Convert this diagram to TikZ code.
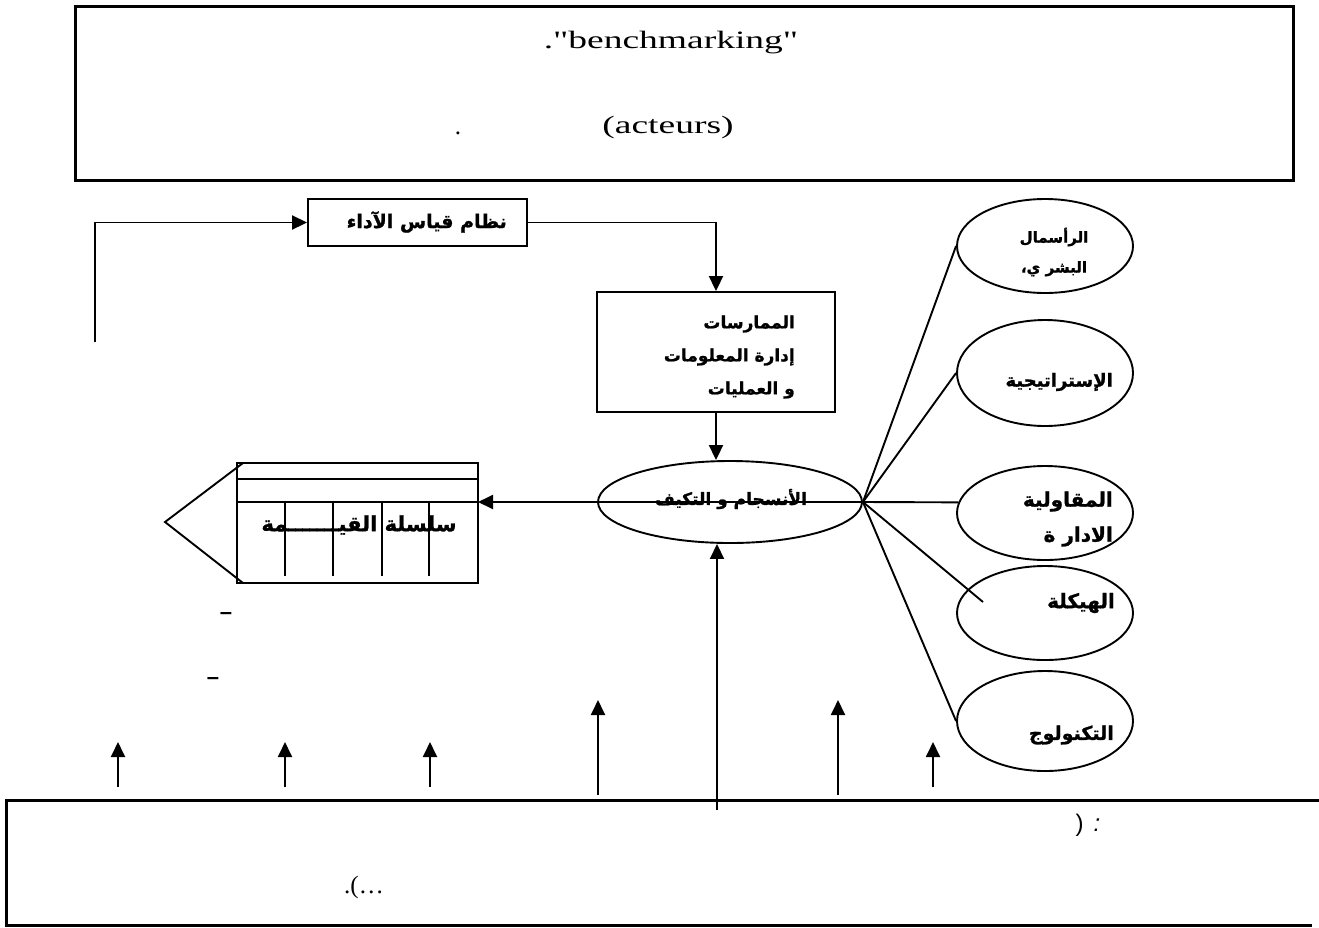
\documentclass[tikz,border=0pt]{standalone}
\usepackage{fontspec}
\usepackage{graphicx}
\usetikzlibrary{arrows.meta,shapes.geometric}
\newfontfamily\latinfont{Liberation Serif}
\newfontfamily\arabicfont[Script=Arabic, BoldFeatures={FakeBold=1.2}]{DejaVu Sans}
\newfontfamily\sansfont{Liberation Sans}
\TeXXeTstate=1
\tikzset{
  ln/.style={line width=1.9pt},
  arr/.style={line width=1.9pt, -{Triangle[length=15pt,width=14pt]}},
  frame/.style={line width=3pt},
  box/.style={draw, line width=1.9pt, rectangle, inner sep=0pt},
  ell/.style={draw, line width=1.9pt, ellipse, inner sep=0pt},
  ar/.style={font=\arabicfont\bfseries\fontsize{18}{21}\selectfont, inner sep=0pt},
  lat/.style={font=\latinfont\fontsize{25}{30}\selectfont, inner sep=0pt},
  dsh/.style={font=\sansfont\bfseries\fontsize{22}{22}\selectfont, inner sep=0pt},
}
\begin{document}
\begin{tikzpicture}[x=1pt,y=-1pt]
\useasboundingbox (0,0) rectangle (1319,927);
% top frame
\draw[frame] (75,6) rectangle (1293,180);
\node[lat] (t1) at (671,43) {\scalebox{1.5}[1]{."benchmarking"}};
\node[lat] (t2) at (668,127) {\scalebox{1.5}[1]{(acteurs)}};
\node[lat] (t3) at (458,133) {.};
% performance box
\node[box, minimum width=219pt, minimum height=47pt] (pm) at (417.5,222.5) {};
\node[ar, anchor=east, font=\arabicfont\bfseries\fontsize{19}{22}\selectfont] (pmt) at (507,222) {\beginR نظام قياس الآداء\endR};
\coordinate (fb) at (95,342);
\draw[arr] (fb) -- (fb |- pm.west) -- (pm.west);
% practices box
\node[box, minimum width=238pt, minimum height=120pt] (pr) at (716,352) {};
\node[ar, anchor=east, align=right, font=\arabicfont\bfseries\fontsize{17}{33}\selectfont] (prt) at (795,357) {\beginR الممارسات\endR\\\beginR إدارة المعلومات\endR\\\beginR و العمليات\endR};
\draw[arr] (pm.east) -- (pr.north |- pm.east) -- (pr.north);
% central ellipse
\node[ell, minimum width=264pt, minimum height=82pt] (c) at (730,502) {};
\node[ar, font=\arabicfont\bfseries\fontsize{17}{20}\selectfont] (ct) at (731,499) {\beginR الأنسجام و التكيف\endR};
\draw[arr] (pr.south) -- (pr.south |- c.north);
% right ellipses
\node[ell, minimum width=176pt, minimum height=94pt] (e1) at (1045,246) {};
\node[ar, align=center, font=\arabicfont\bfseries\fontsize{15}{30}\selectfont] (e1t) at (1054,252) {\beginR الرأسمال\endR\\\beginR البشر ي،\endR};
\node[ell, minimum width=176pt, minimum height=106pt] (e2) at (1045,373) {};
\node[ar, anchor=east] (e2t) at (1113,382) {\beginR الإستراتيجية\endR};
\node[ell, minimum width=176pt, minimum height=94pt] (e3) at (1045,513) {};
\node[ar, anchor=east, align=right, font=\arabicfont\bfseries\fontsize{20}{35}\selectfont] (e3t) at (1113,519) {\beginR المقاولية\endR\\\beginR الادار ة\endR};
\node[ell, minimum width=176pt, minimum height=94pt] (e4) at (1045,613) {};
\node[ar, anchor=east, font=\arabicfont\bfseries\fontsize{20}{23}\selectfont] (e4t) at (1115,603) {\beginR الهيكلة\endR};
\node[ell, minimum width=176pt, minimum height=100pt] (e5) at (1045,721) {};
\node[ar, anchor=east, font=\arabicfont\bfseries\fontsize{19}{22}\selectfont] (e5t) at (1114,735) {\beginR التكنولوج\endR};
\coordinate (e4in) at (983,602);
\draw[ln] (c.east) -- (e1.west);
\draw[ln] (c.east) -- (e2.west);
\draw[ln] (c.east) -- (e3.173);
\draw[ln] (c.east) -- (e4in);
\draw[ln] (c.east) -- (e5.west);
% value chain
\coordinate (vcE) at (478,502);
\draw[ln] (237,463) rectangle (478,583);
\draw[ln] (237,479) -- (478,479);
\draw[ln] (237,502) -- (478,502);
\foreach \x in {285,333,382,429} \draw[ln] (\x,502) -- (\x,576);
\draw[ln] (243,463) -- (165,522) -- (243,583);
\node[ar, font=\arabicfont\bfseries\fontsize{21}{24}\selectfont] (vct) at (359,525) {\beginR سلسلة القيـــــــمة\endR};
\draw[arr] (c.east) -- (vcE);
% dashes
\node[dsh] (d1) at (226,616) {–};
\node[dsh] (d2) at (213,681) {–};
% bottom arrows
\foreach \x in {118,285,430,933} {\coordinate (s\x) at (\x,787); \draw[arr] (s\x) -- ++(0,-45);}
\foreach \x in {598,838} {\coordinate (s\x) at (\x,795); \draw[arr] (s\x) -- ++(0,-95);}
\coordinate (b7) at (717,810);
\draw[arr] (b7) -- (b7 |- c.south);
% bottom frame
\draw[frame] (1319,800) -- (6,800) -- (6,925) -- (1312,925);
\node[font=\sansfont\fontsize{24}{24}\selectfont, inner sep=0pt] (bt1) at (1088,825) {)\hspace{10pt}\textit{:}};
\node[lat] (bt2) at (364,887) {.(\ldots};
\end{tikzpicture}
\end{document}
